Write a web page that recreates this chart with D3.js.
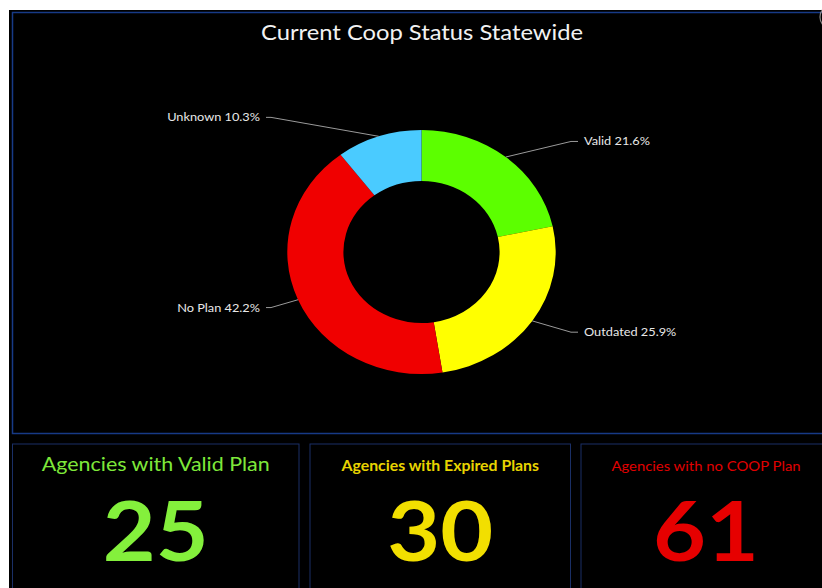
<!DOCTYPE html>
<html>
<head>
<meta charset="utf-8">
<script src="https://cdn.jsdelivr.net/npm/d3@7"></script>
<style>
  html, body { margin: 0; padding: 0; background: #fff; overflow: hidden; }
  svg { display: block; }
  text { font-family: Lato, "Noto Sans", sans-serif; }
</style>
</head>
<body>
<script>
'use strict';

// Chart data
const categories = ["Valid", "Outdated", "No Plan", "Unknown"];
const shares = [21.6, 25.9, 42.2, 10.3];
const sliceColors = ["#5cff00", "#ffff00", "#f00000", "#4acbff"];

// Indicator cards
const cardTitles = ["Agencies with Valid Plan", "Agencies with Expired Plans", "Agencies with no COOP Plan"];
const cardValues = [25, 30, 61];
const cardTitleColors = ["#7ee83a", "#e8d400", "#e00000"];
const cardValueColors = ["#84f03c", "#f2df00", "#e60000"];

const chartTitle = "Current Coop Status Statewide";

const width = 822, height = 588;
const stretch = 1.1; // the screen shot is a bit wider than tall

const svg = d3.select("body")
    .append("svg")
        .attr("width", width)
        .attr("height", height);

// black dashboard area
svg.append("rect")
    .attr("x", 9).attr("y", 10)
    .attr("width", width).attr("height", height)
    .attr("fill", "#000");

// top panel frame
svg.append("rect")
    .attr("x", 12.5).attr("y", 12.5)
    .attr("width", 830).attr("height", 421)
    .attr("fill", "none")
    .attr("stroke", "#173a86")
    .attr("stroke-width", 1.5);

// little icon peeking in the corner
svg.append("circle")
    .attr("cx", 832).attr("cy", 17).attr("r", 12)
    .attr("fill", "none")
    .attr("stroke", "#8a8a8a")
    .attr("stroke-width", 1.2);

// Title
svg.append("text")
    .attr("transform", "translate(422,40) scale(" + stretch + ",1)")
    .attr("text-anchor", "middle")
    .attr("fill", "#f2f2f2")
    .style("font-size", "21.6px")
    .text(chartTitle);

// Donut
const cx = 421.5, cy = 252;
const outerR = 122, innerR = 71;

const pie = d3.pie().sort(null).value(d => d);
const arcs = pie(shares);
const arc = d3.arc().innerRadius(innerR).outerRadius(outerR);

const donut = svg.append("g")
    .attr("transform", "translate(" + cx + "," + cy + ") scale(" + stretch + ",1)");

donut.selectAll("path")
    .data(arcs)
    .enter()
    .append("path")
    .attr("d", arc)
    .attr("fill", (d, i) => sliceColors[i]);

// Labels with connectors
const labelG = svg.append("g")
    .attr("transform", "translate(" + cx + "," + cy + ")");

arcs.forEach(function(d, i) {
    let a = (d.startAngle + d.endAngle) / 2;
    let right = Math.sin(a) > 0;
    let ex = Math.sin(a) * outerR * stretch,
        ey = -Math.cos(a) * outerR;
    let ly = -Math.cos(a) * (outerR + 20);
    let lx = right ? 156.5 : -155.5;
    let bx = right ? lx - 7 : lx + 5;

    labelG.append("path")
        .attr("d", "M" + ex + "," + ey + "L" + bx + "," + ly + "L" + lx + "," + ly)
        .attr("fill", "none")
        .attr("stroke", "#9a9a9a")
        .attr("stroke-width", 1);

    labelG.append("text")
        .attr("transform", "translate(" + (right ? lx + 6 : lx - 6) + "," + (ly + 4) + ") scale(" + stretch + ",1)")
        .attr("text-anchor", right ? "start" : "end")
        .attr("fill", "#e8e8e8")
        .style("font-size", "11.6px")
        .text(categories[i] + " " + shares[i].toFixed(1) + "%");
});

// Cards along the bottom
const cardEdges = [[12.5, 299], [310, 570.5], [581, 831]];
const titleSizes = [19.5, 14.4, 13.5];
const titleWeights = [400, 700, 400];

const cards = svg.selectAll("g.card")
    .data(cardTitles)
    .enter()
    .append("g")
    .attr("class", "card");

cards.append("rect")
    .attr("x", (d, i) => cardEdges[i][0])
    .attr("y", 444)
    .attr("width", (d, i) => cardEdges[i][1] - cardEdges[i][0])
    .attr("height", 200)
    .attr("fill", "#000")
    .attr("stroke", "#1a2f66")
    .attr("stroke-width", 1);

cards.append("text")
    .attr("transform", (d, i) => {
        let e = cardEdges[i];
        return "translate(" + ((e[0] + e[1]) / 2) + ",471) scale(" + stretch + ",1)";
    })
    .attr("text-anchor", "middle")
    .attr("fill", (d, i) => cardTitleColors[i])
    .style("font-size", (d, i) => titleSizes[i] + "px")
    .style("font-weight", (d, i) => titleWeights[i])
    .text(d => d);

cards.append("text")
    .attr("transform", (d, i) => {
        let e = cardEdges[i];
        return "translate(" + ((e[0] + e[1]) / 2) + ",561) scale(" + stretch + ",1)";
    })
    .attr("text-anchor", "middle")
    .attr("fill", (d, i) => cardValueColors[i])
    .style("font-size", "83px")
    .style("font-weight", 700)
    .text((d, i) => cardValues[i]);
</script>
</body>
</html>
